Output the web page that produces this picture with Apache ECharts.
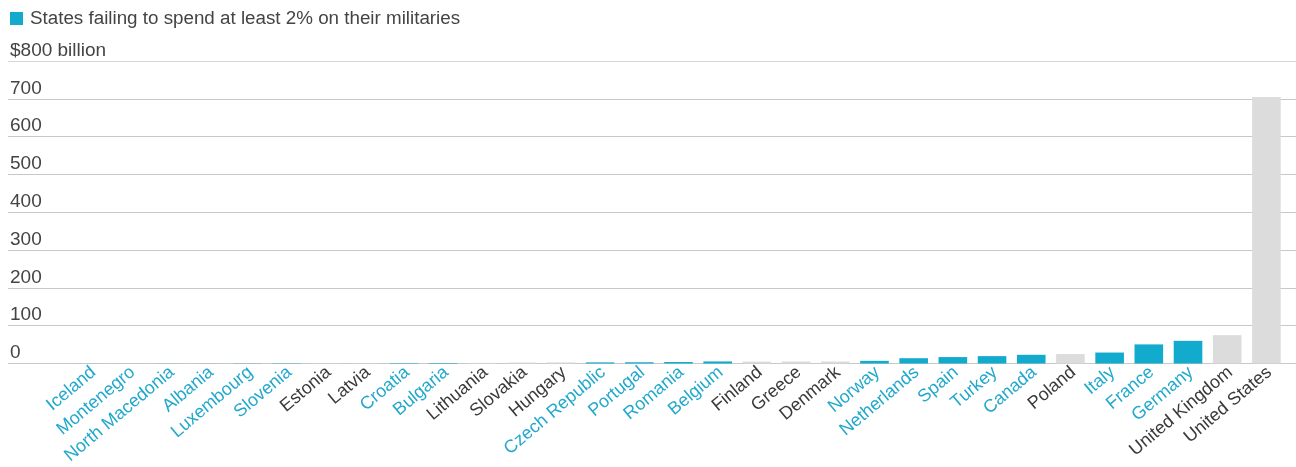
<!DOCTYPE html>
<html><head><meta charset="utf-8">
<script src="https://cdn.jsdelivr.net/npm/echarts@6/dist/echarts.min.js"></script>
<style>html,body{margin:0;padding:0;background:#fff}#c{width:1296px;height:467px}</style>
</head><body><div id="c"></div>
<script>
const categories = ['Iceland','Montenegro','North Macedonia','Albania','Luxembourg','Slovenia','Estonia','Latvia','Croatia','Bulgaria','Lithuania','Slovakia','Hungary','Czech Republic','Portugal','Romania','Belgium','Finland','Greece','Denmark','Norway','Netherlands','Spain','Turkey','Canada','Poland','Italy','France','Germany','United Kingdom','United States'];
const spending = [0.1,0.1,0.2,0.2,0.5,0.7,0.8,0.9,1.2,1.3,1.5,2.5,3.0,3.0,3.3,4.0,5.5,5.0,5.2,5.3,7.0,14,17,19.5,23,25,29,50.5,60,75,705];
const failing = [true,true,true,true,true,true,false,false,true,true,false,false,false,true,true,true,true,false,false,false,true,true,true,true,true,false,true,true,true,false,false];
const yTicks = [0,100,200,300,400,500,600,700,800];
const yTickLabels = ['0','100','200','300','400','500','600','700','$800 billion'];
const legendLabel = 'States failing to spend at least 2% on their militaries';

const TEAL = '#12abcd', GRAY = '#dcdcdc', TEAL_TEXT = '#22a8cc', DARK = '#3a3a3a';
const FONT = 'Liberation Sans';
const TOP = 61, BOTTOM = 103.5;

const chart = echarts.init(document.getElementById('c'));
chart.setOption({
  animation: false,
  textStyle: { fontFamily: FONT },
  legend: {
    data: [legendLabel], left: 10, top: 9, padding: 0, icon: 'rect', itemWidth: 13, itemHeight: 13, itemGap: 10,
    textStyle: { fontSize: 18.8, color: '#444', fontFamily: FONT, padding: [0, 0, 0, 2] }, selectedMode: false
  },
  grid: [
    { left: 8, right: 0, top: TOP, bottom: BOTTOM },
    { left: 71, right: 10, top: TOP, bottom: BOTTOM },
    { left: 74, right: 7, top: TOP, bottom: BOTTOM }
  ],
  xAxis: [
    { gridIndex: 0, type: 'value', show: false, min: 0, max: 1 },
    { gridIndex: 1, type: 'category', data: categories, axisLine: { show: false }, axisTick: { show: false }, axisLabel: { show: false } },
    { gridIndex: 2, type: 'category', data: categories, axisLine: { show: false }, axisTick: { show: false },
      axisLabel: { interval: 0, rotate: 40, margin: 11, fontSize: 18, fontFamily: FONT,
        color: (v, i) => failing[categories.indexOf(v)] ? TEAL_TEXT : DARK } }
  ],
  yAxis: [
    { gridIndex: 0, type: 'value', min: yTicks[0], max: yTicks[yTicks.length - 1], interval: 100,
      axisLine: { show: false }, axisTick: { show: false },
      splitLine: { lineStyle: { color: ['#c8c8c8','#c8c8c8','#c8c8c8','#c8c8c8','#c8c8c8','#c8c8c8','#c8c8c8','#c8c8c8','#d8d8d8'], width: 1 } },
      axisLabel: { inside: true, margin: 2, verticalAlign: 'bottom', padding: [0, 0, 1, 0], fontSize: 19, color: '#444', fontFamily: FONT,
        formatter: v => yTickLabels[yTicks.indexOf(v)] } },
    { gridIndex: 1, type: 'value', min: 0, max: 800, show: false },
    { gridIndex: 2, type: 'value', min: 0, max: 800, show: false }
  ],
  series: [{
    name: legendLabel, type: 'bar', xAxisIndex: 1, yAxisIndex: 1, barCategoryGap: '27%',
    itemStyle: { color: TEAL },
    data: spending.map((v, i) => ({ value: v, itemStyle: { color: failing[i] ? TEAL : GRAY } }))
  }]
});
</script></body></html>
